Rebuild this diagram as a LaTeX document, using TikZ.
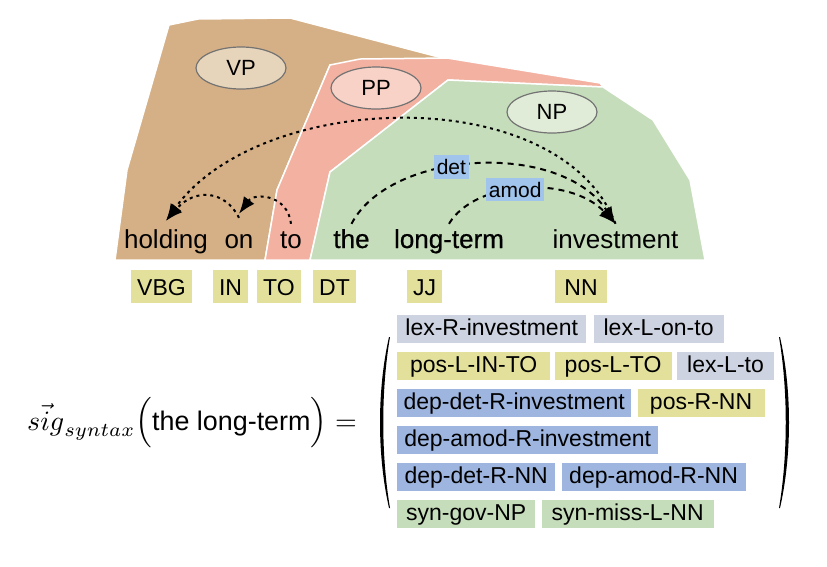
\documentclass[tikz,border=0pt]{standalone}
\usepackage{amsmath}
\usepackage[no-math]{fontspec}
\setmainfont{Liberation Sans}
\newfontfamily\semibold[FakeBold=0.6]{Liberation Sans}
\usetikzlibrary{calc,positioning,arrows.meta,shapes.geometric}

\definecolor{vpbrown}{RGB}{213,175,133}
\definecolor{vplight}{RGB}{231,213,187}
\definecolor{ppsalmon}{RGB}{243,177,161}
\definecolor{pplight}{RGB}{248,210,199}
\definecolor{npgreen}{RGB}{198,221,187}
\definecolor{nplight}{RGB}{224,236,215}
\definecolor{posyellow}{RGB}{226,224,154}
\definecolor{lexgray}{RGB}{205,211,224}
\definecolor{depblue}{RGB}{157,181,223}
\definecolor{arclabel}{RGB}{160,196,236}

\begin{document}
\begin{tikzpicture}[x=1pt,y=-1pt,
  phrase/.style={ellipse, draw=black!55, line width=1.2pt, minimum width=90pt, minimum height=42pt,
    font=\fontsize{22}{26}\selectfont},
  word/.style={font=\fontsize{26}{30}\selectfont, text height=19pt, text depth=5pt,
    inner xsep=1pt, inner ysep=5pt, anchor=base},
  tag/.style={font=\fontsize{23}{27}\selectfont, fill=posyellow, minimum height=33pt,
    text height=17pt, text depth=0pt, inner xsep=6pt},
  feat/.style={font=\fontsize{23}{27}\selectfont, minimum height=28pt, text height=17pt,
    text depth=5pt, inner xsep=4pt, inner ysep=0pt, anchor=west},
  lexf/.style={feat, fill=lexgray},
  posf/.style={feat, fill=posyellow},
  depf/.style={feat, fill=depblue},
  synf/.style={feat, fill=npgreen},
  deplabel/.style={fill=arclabel, font=\fontsize{21}{25}\selectfont, inner xsep=3pt, inner ysep=4pt},
  arc/.style={line width=2pt, dash pattern=on 3pt off 4pt, -{Latex[length=17pt,width=13pt]}},
  deparc/.style={arc, dash pattern=on 6pt off 5pt}]

\useasboundingbox (0,0) rectangle (827,566);

% constituents
\draw[fill=vpbrown, draw=white, line width=1.5pt] (115,260) -- (127,170) -- (169,25) -- (198,19) -- (290,18)
  -- (450,60) -- (330,65) -- (277,190) -- (265,260) -- cycle;
\draw[fill=ppsalmon, draw=white, line width=1.5pt] (265,260) -- (277,190) -- (330,65) -- (360,59) -- (447,58)
  -- (600,83) -- (603,87) -- (448,80) -- (330,172) -- (310,260) -- cycle;
\draw[fill=npgreen, draw=white, line width=1.5pt] (310,260) -- (330,172) -- (448,80) -- (603,87) -- (653,120)
  -- (690,180) -- (705,260) -- cycle;

\node[phrase, fill=vplight] (vp) at (241,68) {VP};
\node[phrase, fill=pplight] (pp) at (376,88) {PP};
\node[phrase, fill=nplight] (np) at (552,112) {NP};

% sentence
\node[word] (holding) at (166,248) {holding};
\node[word] (on) at (239,248) {on};
\node[word] (to) at (291,248) {to};
\node[word] (the) at (351.5,248) {\semibold the};
\node[word] (longterm) at (449,248) {\semibold long-term};
\node[word] (investment) at (615.5,248) {investment};

% dependencies
\draw[arc] (investment.north) .. controls (560,80) and (260,90) .. ([yshift=3pt]holding.north);
\draw[arc] ([yshift=6pt]on.north) .. controls (225,190) and (195,188) .. ([yshift=3pt]holding.north);
\draw[arc] (to.north) .. controls (288,195) and (255,192) .. ([yshift=10pt]on.north);
\draw[deparc] (the.north) .. controls (390,150) and (560,140) .. (investment.north)
  node[deplabel, pos=0.42] (det) {det};
\draw[deparc] (longterm.north) .. controls (475,180) and (570,175) .. (investment.north)
  node[deplabel, pos=0.45] (amod) {amod};

% part-of-speech tags
\node[tag] (vbg) at (161.5,286.5) {VBG};
\node[tag] (in) at (230.5,286.5) {IN};
\node[tag] (tot) at (279,286.5) {TO};
\node[tag] (dt) at (334.5,286.5) {DT};
\node[tag] (jj) at (424.5,286.5) {JJ};
\node[tag, minimum width=52pt] (nn) at (581,286.5) {NN};

% signature
\node (sig) at (192,423)
  {\scalebox{2.8}{$\vec{sig}_{syntax}\Bigl(\text{\fontsize{9.6}{11}\selectfont the long-term}\Bigr) =$}};

\node[lexf, minimum width=189pt] (lexRinv) at (397,329) {lex-R-investment};
\node[lexf, minimum width=130pt, right=7pt of lexRinv] (lexLonto) {lex-L-on-to};
\node[posf, minimum width=153pt] (posLINTO) at (397,366) {pos-L-IN-TO};
\node[posf, minimum width=117pt, right=4pt of posLINTO] (posLTO) {pos-L-TO};
\node[lexf, minimum width=97pt, right=5pt of posLTO] (lexLto) {lex-L-to};
\node[depf, minimum width=234pt] (depdetRinv) at (397,403) {dep-det-R-investment};
\node[posf, minimum width=127pt, right=6pt of depdetRinv] (posRNN) {pos-R-NN};
\node[depf, minimum width=261pt] (depamodRinv) at (397,440) {dep-amod-R-investment};
\node[depf, minimum width=158pt] (depdetRNN) at (397,477) {dep-det-R-NN};
\node[depf, minimum width=184pt, right=6pt of depdetRNN] (depamodRNN) {dep-amod-R-NN};
\node[synf, minimum width=138pt] (syngovNP) at (397,514) {syn-gov-NP};
\node[synf, minimum width=172pt, right=6pt of syngovNP] (synmissLNN) {syn-miss-L-NN};

% big parentheses
\fill (389,337) .. controls (377,390) and (377,455) .. (389,508)
  -- (390,508) .. controls (381,455) and (381,390) .. (390,337) -- cycle;
\fill (780,337) .. controls (792,390) and (792,455) .. (780,508)
  -- (779,508) .. controls (788,455) and (788,390) .. (779,337) -- cycle;

\end{tikzpicture}
\end{document}
